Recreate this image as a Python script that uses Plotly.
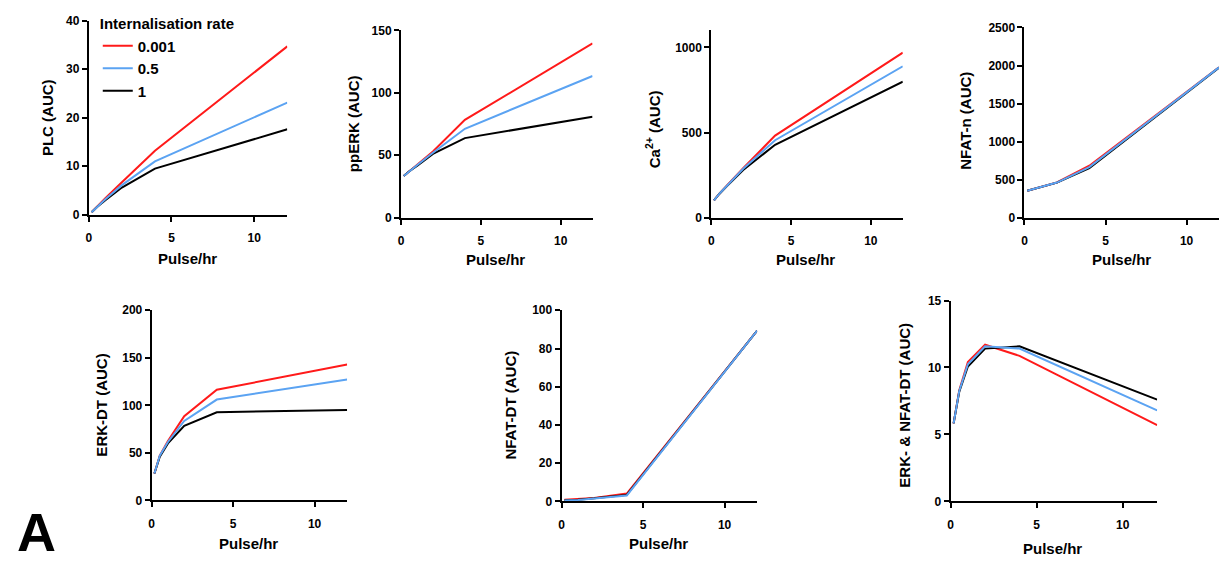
import plotly.graph_objects as go

W, H = 1224, 564

# ---------------- data ----------------
pulse = [0.17, 0.5, 1, 2, 4, 12]
rates = ["0.001", "0.5", "1"]
colors = {"0.001": "#FF1A1A", "0.5": "#5BA3F2", "1": "#000000"}

plc = {"0.001": [0.5, 1.7, 3.4, 6.7, 13.2, 34.7],
       "0.5":   [0.5, 1.6, 3.2, 6.1, 11.0, 23.1],
       "1":     [0.5, 1.6, 3.0, 5.6, 9.5, 17.6]}
pperk = {"0.001": [33.4, 37, 42, 53, 78.3, 139.6],
         "0.5":   [33.4, 37, 42, 52, 71.2, 113.5],
         "1":     [33.4, 37, 41.5, 51, 63.7, 80.9]}
ca = {"0.001": [101, 140, 190, 290, 482, 969],
      "0.5":   [101, 140, 189, 287, 455, 889],
      "1":     [101, 139, 187, 280, 428, 799]}
nfatn = {"0.001": [354, 375, 400, 462, 683, 1978],
         "0.5":   [354, 375, 400, 461, 665, 1975],
         "1":     [354, 375, 400, 460, 650, 1972]}
erkdt = {"0.001": [28.3, 47, 62.5, 88.7, 116.4, 143],
         "0.5":   [28.3, 47, 61.5, 83.6, 106.1, 127.3],
         "1":     [28.3, 46, 60, 78.5, 92.8, 95.2]}
nfatdt = {"0.001": [0.9, 1.0, 1.2, 1.8, 4.1, 89.4],
          "0.5":   [0.5, 0.6, 0.8, 1.5, 3.1, 89.4],
          "1":     [0.6, 0.7, 0.9, 1.6, 3.4, 89.4]}
both = {"0.001": [5.83, 8.3, 10.4, 11.7, 10.87, 5.7],
        "0.5":   [5.83, 8.25, 10.24, 11.58, 11.41, 6.8],
        "1":     [5.83, 8.2, 10.07, 11.41, 11.58, 7.6]}

x_ticks = [0, 5, 10]
panels = [
    # data, ytitle, yrange, ytick step, (x0, x1, ybottom, ytop) px, ytitle pos, xtitle pos
    (plc, "PLC (AUC)", [0, 40], 10, (86, 285, 213, 14), (44, 113), (185, 258)),
    (pperk, "ppERK (AUC)", [0, 150], 50, (399, 591, 216, 24), (351, 120), (494, 259)),
    (ca, "Ca<sup>2+</sup> (AUC)", [0, 1100], 500, (710, 902, 216, 24), (652, 125), (804, 259)),
    (nfatn, "NFAT-n (AUC)", [0, 2500], 500, (1024, 1219, 216, 21), (964, 117), (1121, 259)),
    (erkdt, "ERK-DT (AUC)", [0, 200], 50, (149, 345, 506, 311), (99, 408), (246, 550)),
    (nfatdt, "NFAT-DT (AUC)", [0, 100], 20, (560, 756, 507, 311), (509, 408), (657, 550)),
    (both, "ERK- & NFAT-DT (AUC)", [0, 15], 5, (950, 1157, 507, 301), (904, 408), (1052, 555)),
]

FONT = "Liberation Sans, Arial, sans-serif"
fig = go.Figure()
annotations = []
draw_order = ["0.001", "1", "0.5"]
rank = {"0.001": 1, "0.5": 2, "1": 3}

for i, (data, ytitle, yrange, ystep, (px0, px1, pyb, pyt), ytp, xtp) in enumerate(panels):
    n = "" if i == 0 else str(i + 1)
    for r in draw_order:
        fig.add_trace(go.Scatter(
            x=pulse, y=data[r], mode="lines", name=r,
            line=dict(color=colors[r], width=2),
            xaxis="x" + n, yaxis="y" + n,
            showlegend=(i == 0), legendrank=rank[r], hoverinfo="skip"))
    axcommon = dict(showgrid=False, zeroline=False, showline=True, linecolor="black",
                    linewidth=2, ticks="outside", ticklen=5, tickwidth=2, tickcolor="black",
                    tickfont=dict(family=FONT, size=12, color="black", weight="bold"))
    fig.update_layout(**{
        "xaxis" + n: dict(domain=[px0 / W, px1 / W], anchor="y" + n, range=[0, 12],
                          tickvals=x_ticks, ticklabelstandoff=6, **axcommon),
        "yaxis" + n: dict(domain=[1 - pyb / H, 1 - pyt / H], anchor="x" + n, range=yrange,
                          dtick=ystep, tick0=0, **axcommon),
    })
    annotations.append(dict(text=ytitle, x=ytp[0] / W, y=1 - ytp[1] / H, xref="paper", yref="paper",
                            textangle=-90, showarrow=False, xanchor="center", yanchor="middle",
                            font=dict(family=FONT, size=15, color="black", weight="bold")))
    annotations.append(dict(text="Pulse/hr", x=xtp[0] / W, y=1 - xtp[1] / H, xref="paper", yref="paper",
                            showarrow=False, xanchor="center", yanchor="middle",
                            font=dict(family=FONT, size=15, color="black", weight="bold")))

annotations.append(dict(text="A", x=34 / W, y=1 - 538 / H, xref="paper", yref="paper",
                        showarrow=False, xanchor="center", yanchor="middle",
                        font=dict(family=FONT, size=54, color="black", weight="bold")))

fig.update_layout(
    width=W, height=H, margin=dict(l=0, r=0, t=0, b=0),
    plot_bgcolor="white", paper_bgcolor="white",
    annotations=annotations,
    legend=dict(title=dict(text="Internalisation rate",
                           font=dict(family=FONT, size=15, color="black", weight="bold")),
                font=dict(family=FONT, size=15, color="black", weight="bold"),
                x=95 / W, y=1 - 3 / H, xanchor="left", yanchor="top",
                bgcolor="rgba(0,0,0,0)", itemwidth=30, tracegroupgap=0),
)

fig.write_html("out.html")
